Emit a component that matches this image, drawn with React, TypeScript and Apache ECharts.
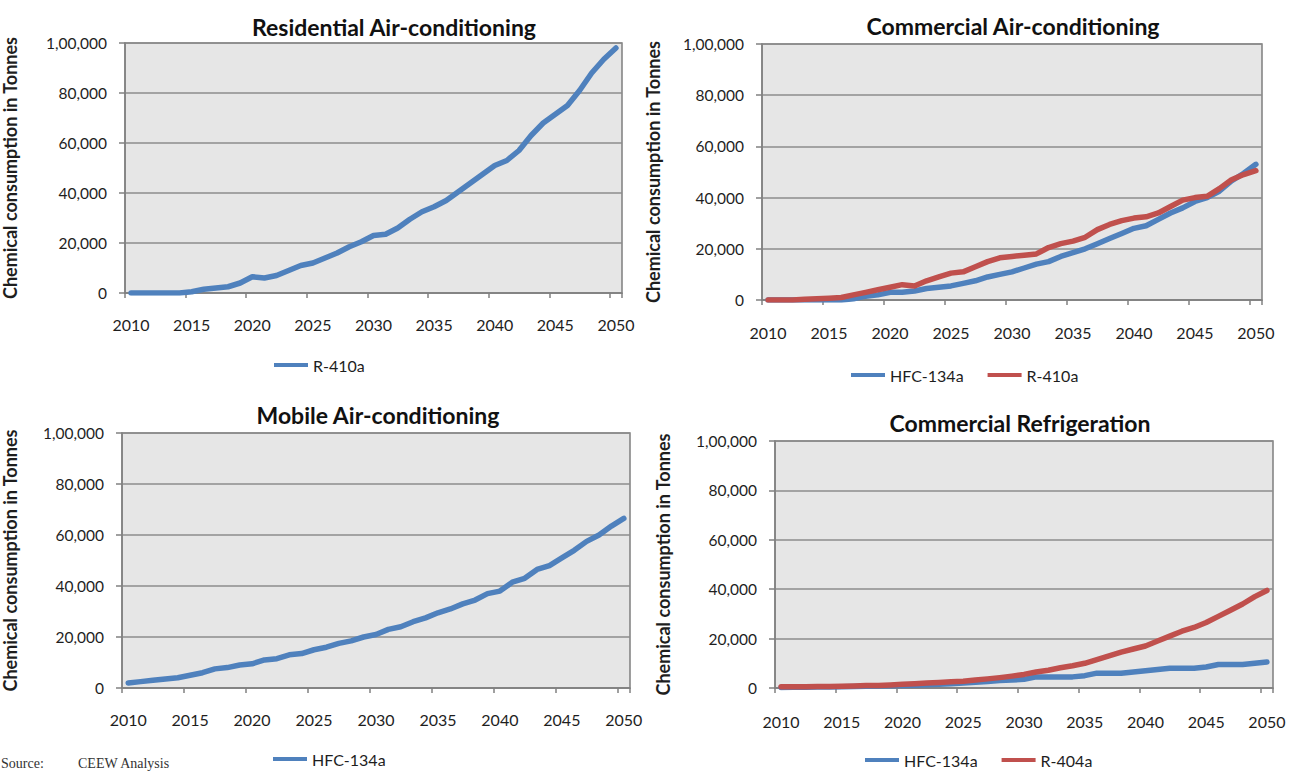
import React, { useEffect, useRef } from "react";
import * as echarts from "echarts";

const years: string[] = [];
for (let y = 2010; y <= 2050; y++) years.push(String(y));

const titles = [
  "Residential Air-conditioning",
  "Commercial Air-conditioning",
  "Mobile Air-conditioning",
  "Commercial Refrigeration",
];

const residentialR410a = [
  0, 0, 0, 0, 0, 500, 1500, 2000, 2500, 4000, 6500, 6000, 7000, 9000, 11000, 12000, 14000, 16000, 18500, 20500,
  23000, 23500, 26000, 29500, 32500, 34500, 37000, 40500, 44000, 47500, 51000, 53000, 57000, 63000, 68000, 71500,
  75000, 81000, 88000, 93500, 98000,
];

const commercialHFC134a = [
  0, 0, 0, 0, 0, 0, 0, 500, 1500, 2000, 3000, 3000, 3500, 4500, 5000, 5500, 6500, 7500, 9000, 10000, 11000, 12500,
  14000, 15000, 17000, 18500, 20000, 22000, 24000, 26000, 28000, 29000, 31500, 34000, 36000, 38500, 40000, 42500,
  46500, 49500, 53000,
];

const commercialR410a = [
  0, 0, 0, 300, 500, 700, 1000, 2000, 3000, 4000, 5000, 6000, 5500, 7500, 9000, 10500, 11000, 13000, 15000, 16500,
  17000, 17500, 18000, 20500, 22000, 23000, 24500, 27500, 29500, 31000, 32000, 32500, 34000, 36500, 39000, 40000,
  40500, 43500, 47000, 49000, 50500,
];

const mobileHFC134a = [
  2000, 2500, 3000, 3500, 4000, 5000, 6000, 7500, 8000, 9000, 9500, 11000, 11500, 13000, 13500, 15000, 16000, 17500,
  18500, 20000, 21000, 23000, 24000, 26000, 27500, 29500, 31000, 33000, 34500, 37000, 38000, 41500, 43000, 46500,
  48000, 51000, 54000, 57500, 60000, 63500, 66500,
];

const refrigerationHFC134a = [
  200, 300, 300, 400, 400, 500, 600, 700, 800, 900, 1000, 1100, 1300, 1500, 1700, 2000, 2300, 2600, 3000, 3200, 3500,
  4500, 4500, 4500, 4500, 5000, 6000, 6000, 6000, 6500, 7000, 7500, 8000, 8000, 8000, 8500, 9500, 9500, 9500, 10000,
  10500,
];

const refrigerationR404a = [
  500, 500, 500, 600, 600, 700, 800, 1000, 1000, 1200, 1500, 1700, 2000, 2200, 2500, 2700, 3200, 3700, 4200, 4800,
  5500, 6500, 7200, 8200, 9000, 10000, 11500, 13000, 14500, 15800, 17000, 19000, 21000, 23000, 24500, 26500, 29000,
  31500, 34000, 37000, 39500,
];

const BLUE = "#4f81bd";
const RED = "#c0504d";
const FONT = "Lato, 'Open Sans', sans-serif";
const TEXT = "#1e1e1e";

function indian(v: number): string {
  const s = String(Math.round(v));
  if (s.length <= 3) return s;
  const last3 = s.slice(-3);
  let rest = s.slice(0, -3);
  const parts: string[] = [];
  while (rest.length > 2) {
    parts.unshift(rest.slice(-2));
    rest = rest.slice(0, -2);
  }
  if (rest.length) parts.unshift(rest);
  return parts.join(",") + "," + last3;
}

const grids = [
  { left: 124, top: 43, width: 498, height: 250 },
  { left: 762, top: 44, width: 500, height: 256 },
  { left: 121, top: 433, width: 509, height: 255 },
  { left: 775, top: 441, width: 498, height: 247 },
];
const nameGaps = [106, 100, 103, 103];
const xMargins = [23, 24, 23, 25];
const titlePos = [
  [394, 27],
  [1013, 26],
  [378, 415],
  [1020, 423],
];

export default function App() {
  const ref = useRef<HTMLDivElement>(null);
  useEffect(() => {
    if (!ref.current) return;
    const chart = echarts.init(ref.current, undefined, { renderer: "svg" });

    const xAxis = grids.map((_, i) => ({
      type: "category",
      gridIndex: i,
      data: years,
      boundaryGap: true,
      axisLine: { show: true, lineStyle: { color: "#808080", width: 1.5 } },
      axisTick: { show: true, interval: 4, length: 5, lineStyle: { color: "#808080", width: 1.5 } },
      axisLabel: { interval: 4, margin: xMargins[i], color: TEXT, fontSize: 16, fontFamily: FONT },
      splitLine: { show: false },
    }));

    const yAxis = grids.map((_, i) => ({
      type: "value",
      gridIndex: i,
      min: 0,
      max: 100000,
      interval: 20000,
      name: "Chemical consumption in Tonnes",
      nameLocation: "middle",
      nameGap: nameGaps[i],
      nameTextStyle: { fontFamily: FONT, fontWeight: "bold", fontSize: 18, color: TEXT },
      axisLine: { show: true, lineStyle: { color: "#808080", width: 1.5 } },
      axisTick: { show: true, length: 6, lineStyle: { color: "#808080", width: 1.5 } },
      axisLabel: { margin: 18, color: TEXT, fontSize: 15.5, fontFamily: FONT, formatter: (v: number) => indian(v) },
      splitLine: { show: true, lineStyle: { color: "#8c8c8c", width: 1.5 } },
    }));

    const line = (name: string, data: number[], color: string, idx: number) => ({
      name,
      type: "line",
      xAxisIndex: idx,
      yAxisIndex: idx,
      data,
      symbol: "none",
      color,
      itemStyle: { color },
      lineStyle: { width: 5.5, color, cap: "round", join: "round" },
    });

    const legendBase = {
      icon: "rect",
      itemWidth: 34,
      itemHeight: 4,
      itemGap: 24,
      textStyle: { fontFamily: FONT, fontSize: 16, color: TEXT },
      selectedMode: false,
    };
    const item = (name: string, color: string) => ({ name, itemStyle: { color } });

    const serif = "'Liberation Serif', 'DejaVu Serif', serif";

    chart.setOption({
      animation: false,
      backgroundColor: "#ffffff",
      grid: grids.map((g) => ({
        ...g,
        show: true,
        backgroundColor: "#e6e6e6",
        borderColor: "#7f7f7f",
        borderWidth: 1.5,
        containLabel: false,
      })),
      xAxis,
      yAxis,
      legend: [
        { ...legendBase, data: [item("R-410a", BLUE)], left: 269, top: 352 },
        { ...legendBase, data: [item("HFC-134a", BLUE), item("R-410a", RED)], left: 846, top: 362 },
        { ...legendBase, data: [item("HFC-134a", BLUE)], left: 268, top: 746 },
        { ...legendBase, data: [item("HFC-134a", BLUE), item("R-404a", RED)], left: 860, top: 747 },
      ],
      series: [
        line("R-410a", residentialR410a, BLUE, 0),
        line("HFC-134a", commercialHFC134a, BLUE, 1),
        line("R-410a", commercialR410a, RED, 1),
        line("HFC-134a", mobileHFC134a, BLUE, 2),
        line("HFC-134a", refrigerationHFC134a, BLUE, 3),
        line("R-404a", refrigerationR404a, RED, 3),
      ],
      graphic: [
        ...titles.map((t, i) => ({
          type: "text",
          x: titlePos[i][0],
          y: titlePos[i][1],
          style: {
            text: t,
            align: "center",
            verticalAlign: "middle",
            font: `bold 23px ${FONT}`,
            fill: "#111",
          },
        })),
        {
          type: "text",
          x: 1,
          y: 770,
          style: { text: "Source:", font: `14px ${serif}`, fill: "#333", verticalAlign: "bottom" },
        },
        {
          type: "text",
          x: 78,
          y: 770,
          style: { text: "CEEW Analysis", font: `14px ${serif}`, fill: "#333", verticalAlign: "bottom" },
        },
      ],
    });
    return () => chart.dispose();
  }, []);
  return (
    <div
      ref={ref}
      style={{ position: "fixed", left: 0, top: 0, width: 1292, height: 771, background: "#fff" }}
    />
  );
}
